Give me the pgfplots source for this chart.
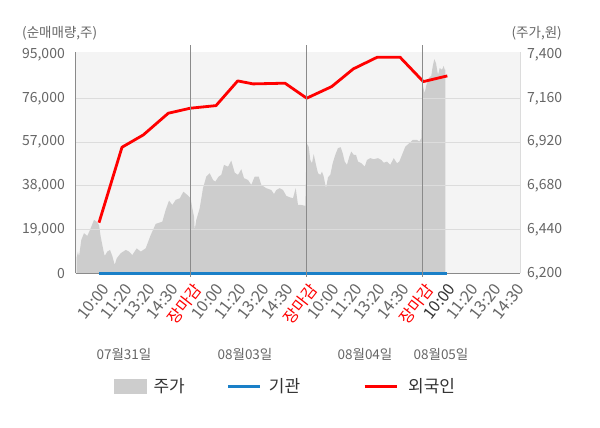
\documentclass[border=0pt]{standalone}
\usepackage{fontspec}
\setmainfont{Noto Sans CJK KR}
\usepackage{pgfplots}
\pgfplotsset{compat=1.18}
\definecolor{bgc}{HTML}{F4F4F4}
\definecolor{gridc}{HTML}{DCDCDC}
\definecolor{areac}{HTML}{CDCDCD}
\definecolor{bluec}{HTML}{1A80C8}
\definecolor{redc}{HTML}{FF0000}
\definecolor{tickc}{HTML}{666666}
\definecolor{axc}{HTML}{8A8A8A}
\definecolor{legc}{HTML}{333333}

\pgfplotstableread{
x y
76.5 6200
76.5 6282
78 6319
79 6291
81.3 6383
84 6420
87.3 6405
90 6438
94 6493
96.7 6483
99 6465
100.7 6401
103.3 6328
104.7 6295
107.3 6319
110 6328
112.3 6295
114.7 6246
116.7 6282
120.7 6310
125.7 6328
129 6319
132.3 6300
136.7 6337
140.7 6319
145.7 6337
150.7 6410
155.7 6471
162.3 6483
165.7 6548
169 6599
172.3 6575
175.7 6603
180 6612
183.3 6648
187.3 6630
190.7 6612
192 6566
194 6511
194.7 6438
196.3 6493
199.7 6557
203 6667
206.3 6731
209.7 6749
213 6712
215.3 6703
218.7 6731
221.3 6740
224 6795
228 6785
231.3 6818
234.7 6752
238 6740
241.3 6771
244 6722
248 6712
251.3 6685
254.7 6731
258.7 6731
261.3 6685
266.3 6667
271.3 6657
274 6635
276.3 6657
279.7 6667
283 6657
286.3 6625
289.7 6617
293 6612
295.7 6667
298 6575
301.3 6575
305.3 6570
306.6 6914
308.7 6895
310.3 6822
312 6804
313.7 6854
316 6795
318 6749
320.3 6740
322 6758
323.7 6731
326 6667
328 6727
330.3 6740
332.7 6804
335.3 6850
338 6887
340.7 6892
342.7 6859
344.7 6813
347 6795
349.3 6840
351.3 6868
353.7 6850
356 6850
358 6813
361.3 6804
364.7 6785
367 6822
370.3 6832
373.7 6826
378 6832
381.3 6822
383.7 6807
387 6813
390.3 6795
393.7 6832
397 6804
399.3 6813
401.3 6840
405.3 6895
409.3 6914
412.7 6932
417 6932
419.3 6923
421.3 6941
422.6 7234
424.7 7189
426 7225
428.7 7271
431.3 7284
432.7 7335
434.3 7375
436 7353
438 7289
439.7 7326
442 7317
443.7 7338
444.7 7317
445.3 7317
445.3 6200
}\pricetable

\pgfplotstableread{
x y
99 22001
122 54785
143.3 60133
168.3 69568
190.3 71742
216 72872
237.7 83612
253 82308
285 82612
306.7 76090
331.7 81134
353.3 88830
377.3 93917
400 93917
423.3 83308
447.3 85786
}\foreigntable

\pgfplotstableread{
x y
99 0
447.3 0
}\insttable

\begin{document}
\begin{tikzpicture}
\path[fill=white,use as bounding box] (0,0) rectangle (600pt,-428pt);
% price axis (right)
\begin{axis}[
  at={(76pt,-273.3pt)}, anchor=south west,
  scale only axis, width=444pt, height=221.6pt,
  xmin=76, xmax=520, ymin=6200, ymax=7416,
  axis x line=none, axis y line*=right,
  scaled y ticks=false,
  ytick={6200,6440,6680,6920,7160},
  yticklabels={{6,200},{6,440},{6,680},{6,920},{7,160}},
  extra y ticks={7400}, extra y tick labels={{7{,}400}},
  extra y tick style={grid=none},
  yticklabel style={font=\fontsize{14}{16}\selectfont, text=tickc, inner sep=0pt, xshift=7pt},
  major tick length=0pt,
  ymajorgrids, major grid style={gridc, line width=1pt},
  y axis line style={draw=gridc, line width=1pt},
  axis background/.style={fill=bgc},
  axis on top,
]
\addplot[fill=areac, draw=none] table[x=x,y=y] {\pricetable};
\end{axis}
% net trading axis (left)
\begin{axis}[
  at={(76pt,-273.3pt)}, anchor=south west,
  scale only axis, width=444pt, height=221.6pt,
  xmin=76, xmax=520, ymin=0, ymax=96300,
  axis y line*=left, axis x line*=bottom,
  clip=false,
  scaled y ticks=false,
  ytick={0,19000,38000,57000,76000,95000},
  yticklabels={0,{19,000},{38,000},{57,000},{76,000},{95,000}},
  yticklabel style={font=\fontsize{14}{16}\selectfont, text=tickc, inner sep=0pt, xshift=-11pt},
  xtick={99,122,145,168,190.3,213,236,259,283,306.6,329,352,375,399,422.6,445,468,491,514},
  xticklabels={10:00,11:20,13:20,14:30,\textcolor{redc}{장마감},10:00,11:20,13:20,14:30,\textcolor{redc}{장마감},10:00,11:20,13:20,14:30,\textcolor{redc}{장마감},\textcolor{legc}{10:00},11:20,13:20,14:30},
  xticklabel style={font=\fontsize{16}{18}\selectfont, text=tickc, rotate=52, anchor=north east, inner sep=0pt, xshift=3pt},
  xticklabel shift=11pt,
  major tick length=0pt,
  x axis line style={draw=axc, line width=1pt},
  y axis line style={draw=axc, line width=1pt},
  legend columns=3,
  legend style={at={(0.0856,-0.5086)}, anchor=west, draw=none, fill=none, inner sep=0pt,
    font=\fontsize{17}{19}\selectfont, text=legc,
    nodes={inner sep=0pt},
    /tikz/column 1/.style={column sep=7pt},
    /tikz/column 2/.style={column sep=42pt},
    /tikz/column 3/.style={column sep=7pt},
    /tikz/column 4/.style={column sep=63pt},
    /tikz/column 5/.style={column sep=10pt}},
]
\addlegendimage{legend image code/.code={\fill[areac] (0pt,-7pt) rectangle (32pt,7pt);}}
\addlegendentry{주가}
\addplot[bluec, line width=3pt, legend image code/.code={\draw[bluec,line width=3pt] (0pt,0pt)--(32pt,0pt);}] table[x=x,y=y] {\insttable};
\addlegendentry{기관}
\addplot[redc, line width=2.8pt, line join=round, legend image code/.code={\draw[redc,line width=3pt] (0pt,0pt)--(32pt,0pt);}] table[x=x,y=y] {\foreigntable};
\addlegendentry{외국인}
\draw[axc, line width=1pt] (axis cs:190.3,99200) -- (axis cs:190.3,-1500);
\draw[axc, line width=1pt] (axis cs:306.6,99200) -- (axis cs:306.6,-1500);
\draw[axc, line width=1pt] (axis cs:422.6,99200) -- (axis cs:422.6,-1500);
\node[font=\fontsize{13.5}{15}\selectfont, text=tickc, inner sep=0pt] at (axis cs:124,-35090) {07월31일};
\node[font=\fontsize{13.5}{15}\selectfont, text=tickc, inner sep=0pt] at (axis cs:245,-35090) {08월03일};
\node[font=\fontsize{13.5}{15}\selectfont, text=tickc, inner sep=0pt] at (axis cs:365,-35090) {08월04일};
\node[font=\fontsize{13.5}{15}\selectfont, text=tickc, inner sep=0pt] at (axis cs:441,-35090) {08월05일};
\node[font=\fontsize{13.5}{15}\selectfont, text=tickc, inner sep=0pt, anchor=west] at (axis cs:22,104480) {(순매매량,주)};
\node[font=\fontsize{13.5}{15}\selectfont, text=tickc, inner sep=0pt, anchor=east] at (axis cs:562,104480) {(주가,원)};
\end{axis}
\end{tikzpicture}
\end{document}
